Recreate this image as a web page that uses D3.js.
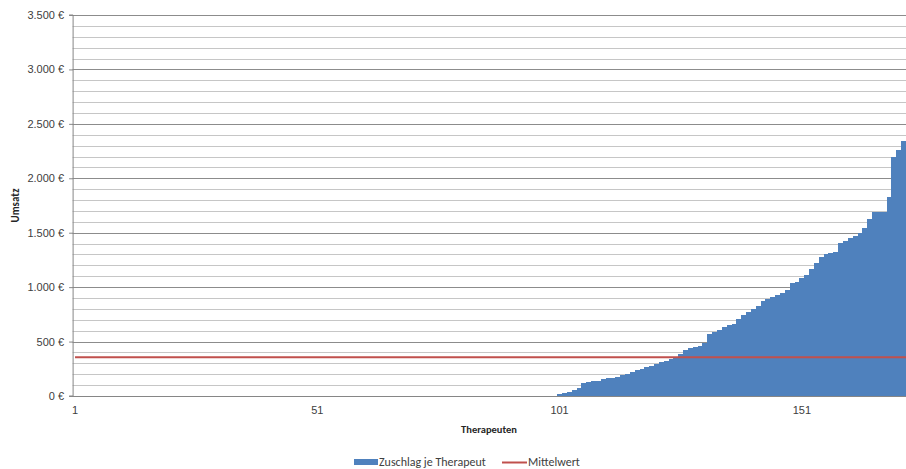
<!DOCTYPE html>
<html>
<head>
<meta charset="utf-8">
<script src="https://cdn.jsdelivr.net/npm/d3@7"></script>
<style>
  body { margin: 0; background: #fff; }
  svg { display: block; font-family: Carlito, Lato, "Open Sans", sans-serif; }
</style>
</head>
<body>
<div id="chart"></div>
<script>
"use strict";

// Therapeuten 1..172, first 100 have no Zuschlag
const therapists = d3.range(1, 173);
const zuschlag = [
  // 101 - 110
  15, 25, 37, 52, 70, 116, 131, 135, 140, 158,
  // 111 - 120
  162, 168, 178, 190, 205, 220, 238, 252, 263, 280,
  // 121 - 130
  292, 310, 318, 340, 360, 390, 420, 440, 450, 460,
  // 131 - 140
  490, 570, 590, 610, 630, 650, 665, 710, 740, 770,
  // 141 - 150
  800, 830, 870, 890, 910, 930, 950, 970, 1035, 1045,
  // 151 - 160
  1085, 1110, 1170, 1220, 1280, 1300, 1310, 1320, 1405, 1420,
  // 161 - 172
  1450, 1470, 1500, 1545, 1630, 1690, 1690, 1690, 1830, 2200, 2260, 2340
];
const values = therapists.map((t) => (t <= 100 ? 0 : zuschlag[t - 101]));
const mittelwert = 357;

const xTickLabels = [1, 51, 101, 151];
const yMajorTicks = d3.range(0, 3501, 500);
const yMinorTicks = d3.range(0, 3501, 100).filter((v) => v % 500 !== 0);

const legendItems = ["Zuschlag je Therapeut", "Mittelwert"];

// Dimensions
const w = 906;
const h = 469;
const margin = { top: 15, right: 0, bottom: 73, left: 72.6 };

const svg = d3.select("#chart").append("svg").attr("width", w).attr("height", h);

const x = d3
  .scaleBand()
  .domain(therapists)
  .range([margin.left, w - margin.right])
  .padding(0);

const y = d3
  .scaleLinear()
  .domain([0, 3500])
  .range([h - margin.bottom, margin.top]);

// Gridlines
svg
  .append("g")
  .selectAll("line")
  .data(yMinorTicks)
  .join("line")
  .attr("x1", margin.left)
  .attr("x2", w - margin.right)
  .attr("y1", (d) => Math.round(y(d)) + 0.5)
  .attr("y2", (d) => Math.round(y(d)) + 0.5)
  .attr("stroke", "#c6c6c6");

svg
  .append("g")
  .selectAll("line")
  .data(yMajorTicks.filter((d) => d > 0))
  .join("line")
  .attr("x1", margin.left)
  .attr("x2", w - margin.right)
  .attr("y1", (d) => Math.round(y(d)) + 0.5)
  .attr("y2", (d) => Math.round(y(d)) + 0.5)
  .attr("stroke", "#8c8c8c");

// Bars (no gap between them)
svg
  .append("g")
  .attr("shape-rendering", "crispEdges")
  .selectAll("rect")
  .data(therapists.filter((t, i) => values[i] > 0))
  .join("rect")
  .attr("x", (d) => x(d))
  .attr("width", x.bandwidth() + 1)
  .attr("y", (d) => y(values[d - 1]))
  .attr("height", (d) => y(0) - y(values[d - 1]))
  .attr("fill", "#4f81bd");

// Mean line
svg
  .append("line")
  .attr("x1", x(1) + x.bandwidth() / 2)
  .attr("x2", x.range()[1])
  .attr("y1", y(mittelwert))
  .attr("y2", y(mittelwert))
  .attr("stroke", "#c0504d")
  .attr("stroke-width", 2);

// Y axis
const yAxis = svg
  .append("g")
  .attr("transform", `translate(${margin.left + 0.5},0)`)
  .call(
    d3
      .axisLeft(y)
      .tickValues(yMajorTicks)
      .tickSize(4)
      .tickPadding(5)
      .tickFormat((d) => d3.format(",")(d).replace(/,/g, ".") + " €")
  );
yAxis.select(".domain").attr("stroke", "#868686").attr("d", `M-4,${y(0)}H0V${y(3500)}H-4`);
yAxis.selectAll(".tick line").attr("stroke", "#868686");
yAxis.selectAll(".tick text").attr("fill", "#404040").attr("font-size", 11).attr("font-family", null);

// X axis
const xAxis = svg
  .append("g")
  .attr("transform", `translate(0,${Math.round(y(0)) + 0.5})`)
  .call(
    d3
      .axisBottom(x)
      .tickValues(xTickLabels)
      .tickSize(0)
      .tickPadding(10)
  );
xAxis.select(".domain").attr("stroke", "#868686").attr("d", `M${margin.left},0H${w}`);
xAxis.selectAll(".tick text").attr("fill", "#404040").attr("font-size", 11).attr("font-family", null);

// Axis titles
svg
  .append("text")
  .attr("transform", `translate(19,${(y(0) + y(3500)) / 2}) rotate(-90)`)
  .attr("text-anchor", "middle")
  .attr("font-size", 11)
  .attr("font-weight", "bold")
  .attr("fill", "#262626")
  .text("Umsatz");

svg
  .append("text")
  .attr("x", 489)
  .attr("y", 433)
  .attr("text-anchor", "middle")
  .attr("font-size", 10.5)
  .attr("font-weight", "bold")
  .attr("fill", "#262626")
  .text("Therapeuten");

// Legend
const legend = svg.append("g").attr("transform", "translate(354,462)");

legend
  .append("rect")
  .attr("x", 0)
  .attr("y", -3)
  .attr("width", 24)
  .attr("height", 6)
  .attr("fill", "#4f81bd");
legend
  .append("text")
  .attr("x", 25)
  .attr("y", 4)
  .attr("font-size", 12)
  .attr("fill", "#404040")
  .text(legendItems[0]);

legend
  .append("line")
  .attr("x1", 148)
  .attr("x2", 173)
  .attr("y1", 0.5)
  .attr("y2", 0.5)
  .attr("stroke", "#c0504d")
  .attr("stroke-width", 2);
legend
  .append("text")
  .attr("x", 174)
  .attr("y", 4)
  .attr("font-size", 12)
  .attr("fill", "#404040")
  .text(legendItems[1]);
</script>
</body>
</html>
